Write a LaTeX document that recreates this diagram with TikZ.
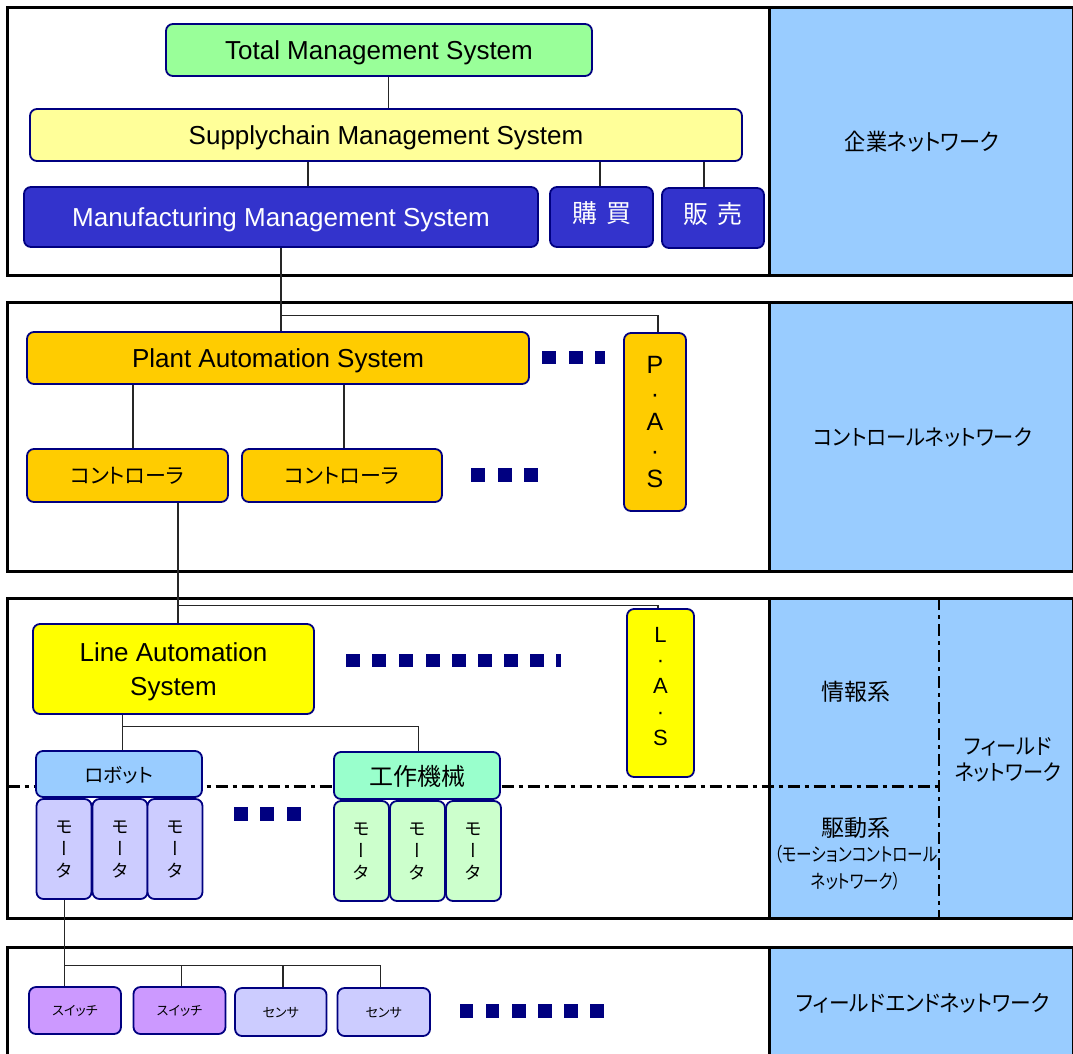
\documentclass[tikz,border=0pt]{standalone}
\usepackage{fontspec}
\usepackage{graphicx}
\setmainfont{Liberation Sans}
\newfontfamily\jp[RawFeature=+palt]{Noto Sans CJK JP}
\newfontfamily\jpv[RawFeature=+vert]{Noto Sans CJK JP}
\newfontfamily\jpn[RawFeature=+palt,FakeStretch=0.82]{Noto Sans CJK JP}
\newfontfamily\jpm[RawFeature=+palt,FakeStretch=0.92]{Noto Sans CJK JP}
\newcommand\fsz[2]{\fontsize{#1}{#2}\selectfont}

\definecolor{edgenavy}{HTML}{000080}
\definecolor{panelblue}{HTML}{99CCFF}
\definecolor{cTotal}{HTML}{99FF99}
\definecolor{cSupply}{HTML}{FFFF99}
\definecolor{cManu}{HTML}{3333CC}
\definecolor{cPlant}{HTML}{FFCC00}
\definecolor{cLine}{HTML}{FFFF00}
\definecolor{cRobot}{HTML}{99CCFF}
\definecolor{cTool}{HTML}{99FFCC}
\definecolor{cMotorA}{HTML}{CCCCFF}
\definecolor{cMotorB}{HTML}{CCFFCC}
\definecolor{cSwitch}{HTML}{CC99FF}
\definecolor{cSensor}{HTML}{CCCCFF}

\tikzset{
  box/.style={draw=edgenavy, line width=1.8pt, rounded corners=7pt, inner sep=0pt,
              align=center, text depth=0pt},
  link/.style={draw=black!85, line width=1.2pt},
  bandframe/.style={draw=black, line width=3pt},
  sq/.style={fill=edgenavy},
  layersep/.style={draw=black, line width=2.5pt, dash pattern=on 12pt off 5pt on 4pt off 5pt},
  netlabel/.style={inner sep=0pt, align=center, text depth=0pt},
  latin/.style={font=\fsz{26}{30}},
  motor/.style={box, minimum width=55pt, minimum height=100pt, font={\jpv\fsz{18}{22}}},
  device/.style={box, font={\jp\fsz{13}{16}}},
}

\begin{document}
\begin{tikzpicture}[x=1pt,y=-1pt]
\useasboundingbox (0,0) rectangle (1073,1053);
\clip (0,0) rectangle (1073,1053);
\fill[white] (0,0) rectangle (1073,1053);

% ---- network bands ----
\foreach \top/\bot in {7.3/275, 302.7/571.7, 598/918.5, 947/1062}{
  \fill[panelblue] (769.6,\top) rectangle (1076,\bot);
  \draw[bandframe] (7.6,\top) rectangle (1073.5,\bot);
  \draw[bandframe] (769.6,\top) -- (769.6,\bot);
}
% layer separators inside the field band
\draw[layersep] (7.6,786.7) -- (939,786.7);
\draw[layersep] (939,598) -- (939,918.5);

% ---- enterprise level ----
\node[box, latin, fill=cTotal, minimum width=426pt, minimum height=52pt] (tms) at (379,50)
  {Total Management System};
\node[box, latin, fill=cSupply, minimum width=712pt, minimum height=52pt] (scm) at (386,135)
  {Supplychain Management System};
\node[box, latin, fill=cManu, text=white, minimum width=514pt, minimum height=60pt] (mms) at (281,217)
  {Manufacturing Management System};
\node[box, fill=cManu, text=white, minimum width=103pt, minimum height=60pt, text depth=10pt,
      font={\jp\fsz{25}{30}}] (buy) at (601.5,217) {購\hspace{9pt}買};
\node[box, fill=cManu, text=white, minimum width=102pt, minimum height=60pt, text depth=10pt,
      font={\jp\fsz{25}{30}}] (sell) at (713,218) {販\hspace{9pt}売};

% ---- plant level ----
\node[box, latin, fill=cPlant, minimum width=502pt, minimum height=52pt] (pas) at (278,358)
  {Plant Automation System};
\node[box, fill=cPlant, minimum width=62pt, minimum height=178pt, font=\fsz{25}{28.5}] (pasv) at (655,422)
  {P\\·\\A\\·\\S};
\node[box, fill=cPlant, minimum width=201pt, minimum height=53pt, font={\jp\fsz{21}{26}}] (ctrlA) at (127.5,475.5)
  {コントローラ};
\node[box, fill=cPlant, minimum width=200pt, minimum height=53pt, font={\jp\fsz{21}{26}}] (ctrlB) at (342,475.5)
  {コントローラ};

% ---- line level ----
\node[box, fill=cLine, minimum width=281pt, minimum height=90pt, font=\fsz{26}{34}] (las) at (173.5,669)
  {Line Automation\\System};
\node[box, fill=cLine, minimum width=67pt, minimum height=168pt, text depth=14pt, font=\fsz{22}{25.75}] (lasv) at (660.5,693)
  {L\\·\\A\\·\\S};
\node[box, fill=cRobot, minimum width=166pt, minimum height=46pt, font={\jp\fsz{19.5}{25}}] (robot) at (119,774)
  {ロボット};
\node[box, fill=cTool, minimum width=166pt, minimum height=47pt, font={\jp\fsz{24}{28}}] (tool) at (417,775.5)
  {工作機械};

\foreach \n/\cx in {mA1/64, mA2/120, mA3/175}{
  \node[motor, fill=cMotorA] (\n) at (\cx,849) {モ\\ー\\タ};
}
\foreach \n/\cx in {mB1/361.5, mB2/417.5, mB3/473.5}{
  \node[motor, fill=cMotorB] (\n) at (\cx,851) {モ\\ー\\タ};
}

% ---- field end level ----
\node[device, fill=cSwitch, minimum width=92pt, minimum height=47pt] (swA) at (75,1010.5) {スイッチ};
\node[device, fill=cSwitch, minimum width=92pt, minimum height=47pt] (swB) at (179.5,1010.5) {スイッチ};
\node[device, fill=cSensor, minimum width=91.5pt, minimum height=48pt] (snA) at (280.8,1012) {センサ};
\node[device, fill=cSensor, minimum width=92.5pt, minimum height=48pt] (snB) at (383.8,1012) {センサ};

% ---- continuation marks ----
\foreach \x/\w in {542/14, 569/14, 595/10}{ \fill[sq] (\x,351) rectangle ++(\w,13); }
\foreach \x in {471, 497.5, 524}{ \fill[sq] (\x,468) rectangle ++(14,14); }
\foreach \x in {346, 372, 399, 426, 452, 478, 504, 530}{ \fill[sq] (\x,654) rectangle ++(13.5,13); }
\fill[sq] (556,654) rectangle ++(5,13);
\foreach \x in {234, 260, 287}{ \fill[sq] (\x,807) rectangle ++(14,14); }
\foreach \x in {459.5, 485.5, 512, 538, 564, 590}{ \fill[sq] (\x,1004) rectangle ++(13.5,14); }

% ---- connector positions ----
\coordinate (xa) at (388.5,0);
\coordinate (xb) at (308,0);
\coordinate (xc) at (600,0);
\coordinate (xd) at (704,0);
\coordinate (xe) at (281,0);
\coordinate (xf) at (658,0);
\coordinate (xg) at (133,0);
\coordinate (xh) at (344,0);
\coordinate (xi) at (178,0);
\coordinate (xj) at (122.6,0);
\coordinate (xk) at (418.7,0);
\coordinate (xl) at (64.7,0);
\coordinate (xm) at (181.5,0);
\coordinate (xn) at (283,0);
\coordinate (xo) at (380.5,0);
\coordinate (jP) at (281,315.5);
\coordinate (jL) at (178,605.7);
\coordinate (jT) at (122.6,726.7);
\coordinate (jF) at (64.7,965.7);

\draw[link] (tms.south -| xa) -- (scm.north -| xa);
\draw[link] (scm.south -| xb) -- (mms.north -| xb);
\draw[link] (scm.south -| xc) -- (buy.north -| xc);
\draw[link] (scm.south -| xd) -- (sell.north -| xd);

\draw[link] (mms.south -| xe) -- (pas.north -| xe);
\draw[link] (jP) -- (jP -| xf) -- (pasv.north -| xf);
\draw[link] (pas.south -| xg) -- (ctrlA.north -| xg);
\draw[link] (pas.south -| xh) -- (ctrlB.north -| xh);

\draw[link] (ctrlA.south -| xi) -- (las.north -| xi);
\draw[link] (jL) -- (jL -| xf) -- (lasv.north -| xf);
\draw[link] (las.south -| xj) -- (robot.north -| xj);
\draw[link] (jT) -- (jT -| xk) -- (tool.north -| xk);

\draw[link] (mA1.south -| xl) -- (swA.north -| xl);
\draw[link] (jF) -- (jF -| xo) -- (snB.north -| xo);
\draw[link] (jF -| xm) -- (swB.north -| xm);
\draw[link] (jF -| xn) -- (snA.north -| xn);

% ---- network names ----
\node[netlabel, font={\jpm\fsz{23}{28}}] (nEnt) at (922,141) {企業ネットワーク};
\node[netlabel, font={\jpm\fsz{22}{28}}] (nCtl) at (923,437) {コントロールネットワーク};
\node[netlabel, font={\jp\fsz{23}{28}}] (nInfo) at (855.5,691) {情報系};
\node[netlabel, font={\jp\fsz{23}{28}}] (nDrive) at (855.5,827) {駆動系};
\node[netlabel, font={\jpn\fsz{19}{27}}] (nMotion) at (856,867) {（モーションコントロール\\ネットワーク）};
\node[netlabel, font={\jpm\fsz{22}{26}}] (nField) at (1008,759) {フィールド\\ネットワーク};
\node[netlabel, font={\jpm\fsz{22.5}{26}}] (nEnd) at (923,1002) {フィールドエンドネットワーク};
\end{tikzpicture}
\end{document}
